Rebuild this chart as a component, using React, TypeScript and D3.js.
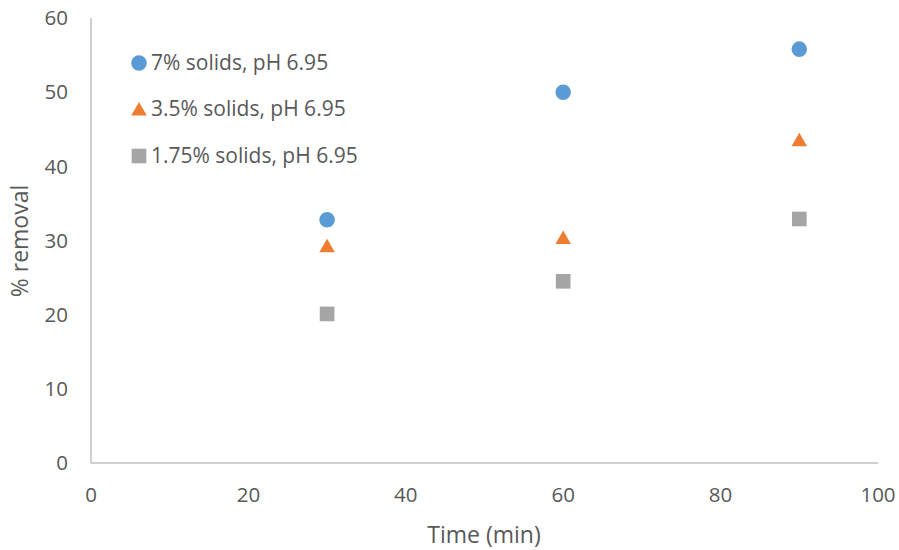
import React from "react";
import * as d3 from "d3";

const times = [30, 60, 90];
const seriesNames = ["7% solids, pH 6.95", "3.5% solids, pH 6.95", "1.75% solids, pH 6.95"];
const solids7 = [32.8, 50.0, 55.8];
const solids35 = [29.3, 30.4, 43.6];
const solids175 = [20.1, 24.5, 32.9];
const xTicks = [0, 20, 40, 60, 80, 100];
const yTicks = [0, 10, 20, 30, 40, 50, 60];

const colors = ["#5b9bd5", "#ed7d31", "#a5a5a5"];
const symbols = [d3.symbolCircle, d3.symbolTriangle, d3.symbolSquare];
const symbolSizes = [190, 105, 215];

export default function App() {
  const W = 899, H = 550;
  const x = d3.scaleLinear().domain([0, 100]).range([91, 878]);
  const y = d3.scaleLinear().domain([0, 60]).range([463, 18]);
  const series = [solids7, solids35, solids175];
  const font = "'Open Sans', 'Liberation Sans', sans-serif";
  const textColor = "#595959";
  const sym = (i: number) => d3.symbol().type(symbols[i]).size(symbolSizes[i])() as string;
  const legendY = [63, 109, 156];

  return (
    <svg width={W} height={H} style={{ position: "absolute", left: 0, top: 0, background: "#fff" }} fontFamily={font}>
      <line x1={x(0)} x2={x(0)} y1={y(0)} y2={y(60)} stroke="#bfbfbf" strokeWidth={1.5} />
      <line x1={x(0)} x2={x(100)} y1={y(0)} y2={y(0)} stroke="#bfbfbf" strokeWidth={1.5} />
      {yTicks.map((t) => (
        <text key={"y" + t} x={68} y={y(t)} dy="0.35em" textAnchor="end" fontSize={20.5} fill={textColor}>{t}</text>
      ))}
      {xTicks.map((t) => (
        <text key={"x" + t} x={x(t)} y={502} textAnchor="middle" fontSize={20.5} fill={textColor}>{t}</text>
      ))}
      <text x={484} y={543} textAnchor="middle" fontSize={23} fill={textColor}>Time (min)</text>
      <text transform={`translate(28,241) rotate(-90)`} textAnchor="middle" fontSize={23} fill={textColor}>% removal</text>
      {series.map((vals, i) =>
        vals.map((v, j) => {
          const dy = i === 1 ? 2 : 0;
          return (
            <path key={`p${i}-${j}`} d={sym(i)} transform={`translate(${x(times[j])},${y(v) + dy})`} fill={colors[i]} />
          );
        })
      )}
      {seriesNames.map((n, i) => (
        <g key={"l" + i}>
          <path d={sym(i)} transform={`translate(139,${legendY[i] + (i === 1 ? 2 : 0)})`} fill={colors[i]} />
          <text x={151} y={legendY[i]} dy="0.35em" fontSize={21} fill={textColor}>{n}</text>
        </g>
      ))}
    </svg>
  );
}
